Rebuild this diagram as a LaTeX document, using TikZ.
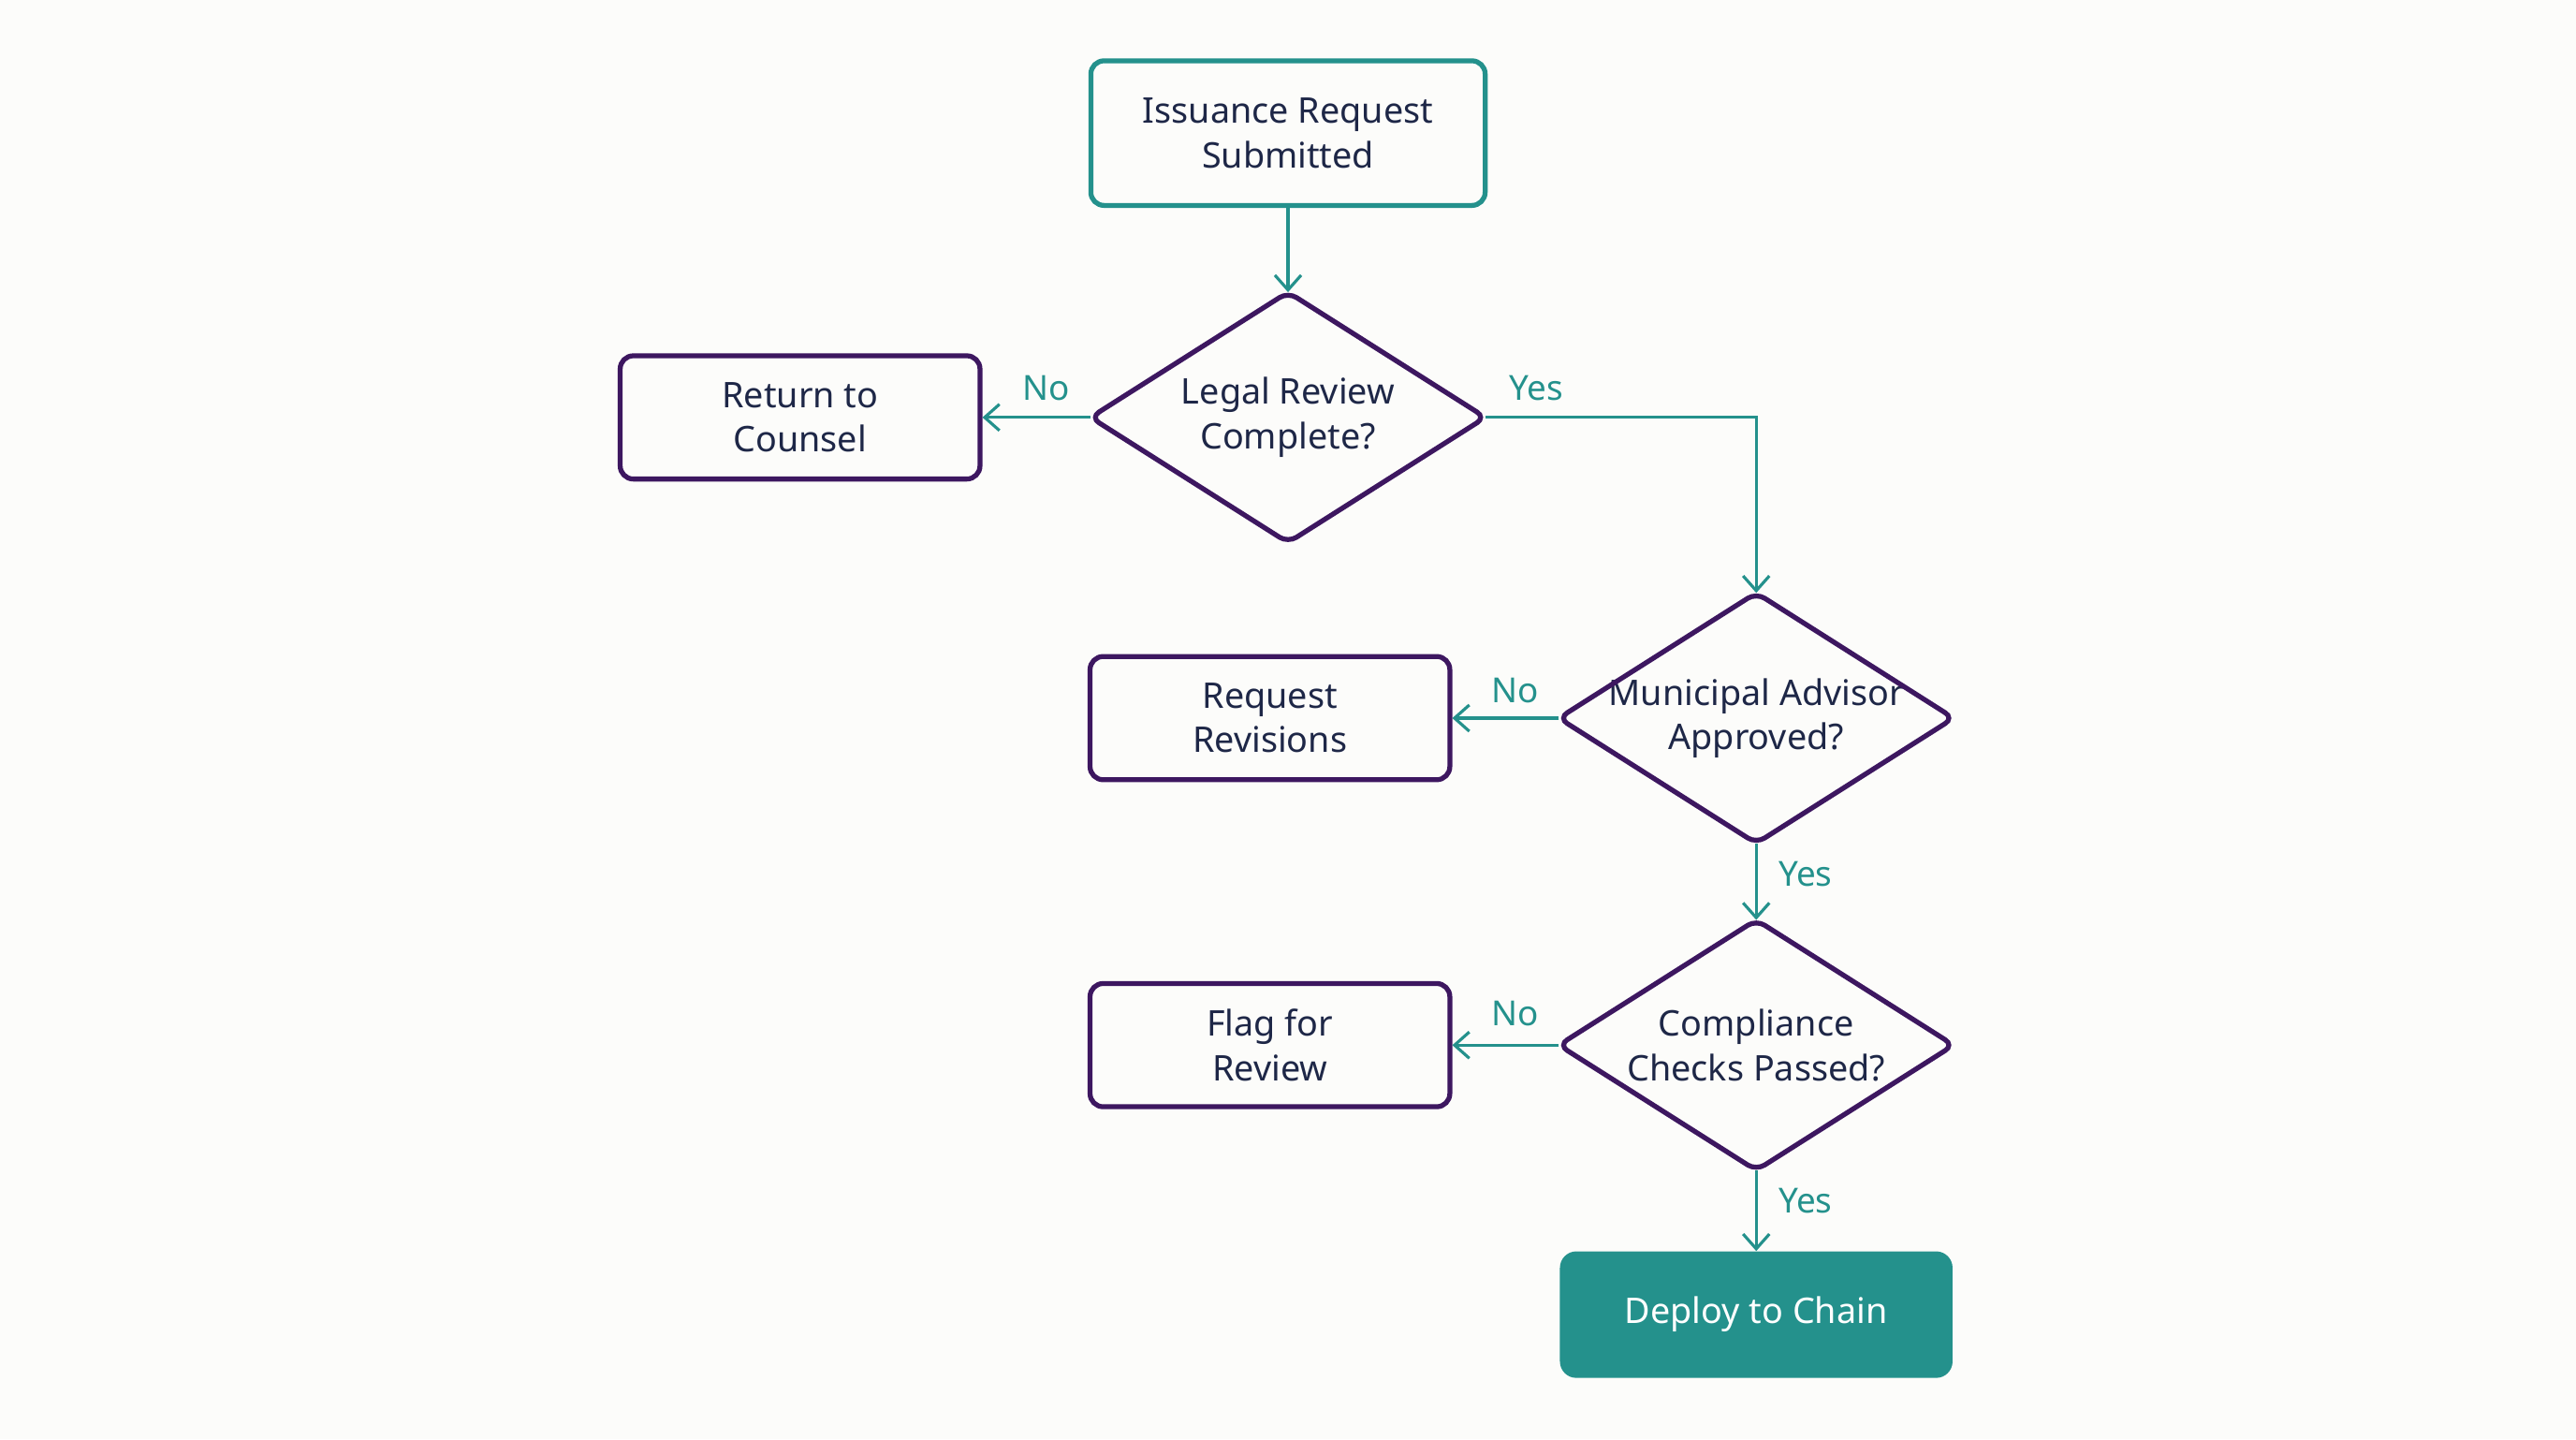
\documentclass[tikz,border=0pt]{standalone}
\usepackage{fontspec}
\setmainfont{Noto Sans}
\usetikzlibrary{arrows.meta}
\definecolor{teal1}{HTML}{24918C}
\definecolor{purp}{HTML}{3D1760}
\definecolor{ink}{HTML}{1E2747}
\definecolor{bg}{HTML}{FCFCFA}
\begin{document}
\begin{tikzpicture}[x=1pt,y=-1pt,
  txt/.style={font=\fontsize{21.5}{27}\selectfont,text=ink,align=center},
  box/.style={txt,draw=purp,line width=3pt,rounded corners=8pt,minimum width=219pt,minimum height=75pt,inner sep=0pt},
  startbox/.style={txt,draw=teal1,line width=3pt,rounded corners=8pt,minimum width=240pt,minimum height=88pt,inner sep=0pt},
  dec/.style={txt,minimum width=240pt,minimum height=152pt,inner sep=0pt},
  dshape/.style={draw=purp,line width=3pt,rounded corners=6pt},
  endbox/.style={font=\fontsize{21.5}{27}\selectfont,text=white,fill=teal1,rounded corners=10pt,minimum width=239pt,minimum height=77pt},
  arr/.style={draw=teal1,line width=1.8pt,-{Straight Barb[length=9pt,width=16pt,line width=1.8pt]}},
  lab/.style={font=\fontsize{21}{25}\selectfont,text=teal1}]
\fill[bg] (0,0) rectangle (1568,876);
\useasboundingbox (0,0) rectangle (1568,876);
\node[startbox] (s) at (784,81) {Issuance Request\\Submitted};
\node[dec] (d1) at (784,254) {Legal Review\\Complete?};
\node[box] (r1) at (487,254) {Return to\\Counsel};
\node[dec] (d2) at (1069,437) {Municipal Advisor\\Approved?};
\node[box] (r2) at (773,437) {Request\\Revisions};
\node[dec] (d3) at (1069,636) {Compliance\\Checks Passed?};
\node[box] (r3) at (773,636) {Flag for\\Review};
\node[endbox] (e) at (1069,800) {Deploy to Chain};
\foreach \d in {d1,d2,d3}
  \draw[dshape] (\d.north) -- (\d.east) -- (\d.south) -- (\d.west) -- cycle;
\draw[arr] (s) -- (d1);
\draw[arr] (d1) -- (r1);
\draw[arr] (d1.east) -| (d2.north);
\draw[arr] (d2) -- (r2);
\draw[arr] (d2) -- (d3);
\draw[arr] (d3) -- (r3);
\draw[arr] (d3) -- (e);
\node[lab] (l1) at (637,236) {No};
\node[lab] (l2) at (935,236) {Yes};
\node[lab] (l3) at (922,420) {No};
\node[lab] (l4) at (1099,532) {Yes};
\node[lab] (l5) at (922,617) {No};
\node[lab] (l6) at (1099,731) {Yes};
\end{tikzpicture}
\end{document}
